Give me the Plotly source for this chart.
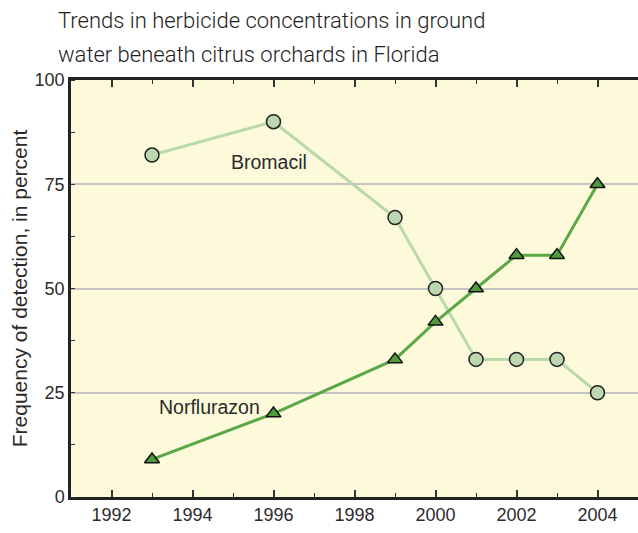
import plotly.graph_objects as go

years_brom = [1993, 1996, 1999, 2000, 2001, 2002, 2003, 2004]
bromacil = [82, 90, 67, 50, 33, 33, 33, 25]
years_norf = [1993, 1996, 1999, 2000, 2001, 2002, 2003, 2004]
norflurazon = [9, 20, 33, 42, 50, 58, 58, 75]
x_ticks = [1992, 1994, 1996, 1998, 2000, 2002, 2004]
y_ticks = [0, 25, 50, 75, 100]
title_lines = ["Trends in herbicide concentrations in ground",
               "water beneath citrus orchards in Florida"]

TITLEF = "Roboto, Liberation Sans, Arial, sans-serif"
REG = "Liberation Sans, Arial, sans-serif"
TXT = "#2b2b2b"

fig = go.Figure()
fig.add_trace(go.Scatter(
    x=years_brom, y=bromacil, mode="lines+markers", name="Bromacil",
    line=dict(color="#b9d9a9", width=3),
    marker=dict(symbol="circle", size=14, color="#bdd7b1",
                line=dict(color="#222222", width=1.5)),
    showlegend=False, cliponaxis=False))
fig.add_trace(go.Scatter(
    x=years_norf, y=norflurazon, mode="lines+markers", name="Norflurazon",
    line=dict(color="#5ba847", width=3),
    marker=dict(symbol="triangle-up", size=13, color="#4f9c3b",
                line=dict(color="#111111", width=1.5)),
    showlegend=False, cliponaxis=False))

fig.add_annotation(x=1995.9, y=80.3, xref="x", yref="y", text="Bromacil",
                   showarrow=False, font=dict(family=REG, size=19.5, color=TXT))
fig.add_annotation(x=1994.42, y=21.6, xref="x", yref="y", text="Norflurazon",
                   showarrow=False, font=dict(family=REG, size=19.5, color=TXT))
for line, shift in zip(title_lines, [60, 26]):
    fig.add_annotation(x=-0.027, y=1.0, xref="paper", yref="paper", yshift=shift,
                       xanchor="left", yanchor="middle", align="left",
                       text=line, showarrow=False,
                       font=dict(family=TITLEF, size=22, weight=300, color="#1e1e1e"))

fig.update_layout(
    width=638, height=533,
    margin=dict(l=71, r=0, t=80, b=36),
    paper_bgcolor="white", plot_bgcolor="#fcfadb",
    xaxis=dict(range=[1991, 2005], tickvals=x_ticks, ticks="inside", ticklen=7,
               tickwidth=1.5, tickcolor="#333", showline=True, linecolor="#222",
               linewidth=2.5, mirror="allticks", showgrid=False, zeroline=False,
               tickfont=dict(family=REG, size=18, color=TXT),
               minor=dict(dtick=1, tick0=1991, ticks="inside", ticklen=4,
                          tickcolor="#333", tickwidth=1.2, showgrid=False)),
    yaxis=dict(range=[0, 100], tickvals=y_ticks, ticks="", showline=True,
               linecolor="#222", linewidth=2.5, showgrid=True, gridcolor="#c4c4c4",
               gridwidth=1.5, zeroline=False,
               tickfont=dict(family=REG, size=18, color=TXT),
               title=dict(text="Frequency of detection, in percent", standoff=2,
                          font=dict(family=REG, size=21, color=TXT)),
               minor=dict(dtick=12.5, tick0=0, ticks="inside", ticklen=4,
                          tickcolor="#333", tickwidth=1.2, showgrid=False)),
    yaxis2=dict(range=[0, 100], overlaying="y", side="right", showline=False,
                showgrid=False, zeroline=False, showticklabels=False,
                tickvals=[12.5, 25, 37.5, 50, 62.5, 75, 87.5], ticks="inside",
                ticklen=4, tickcolor="#333", tickwidth=1.2),
)

fig.write_html("out.html", config={"displayModeBar": False},
               post_script="document.body.style.margin='0';")
